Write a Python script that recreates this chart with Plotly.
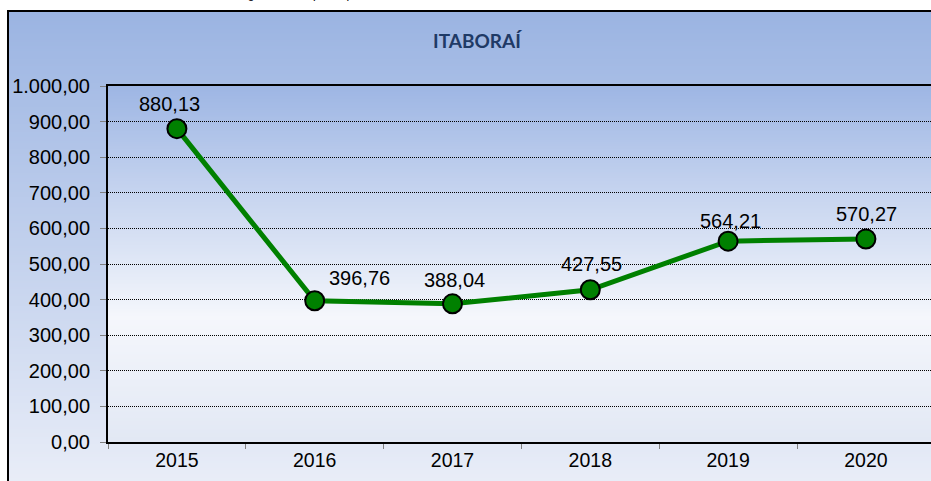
import base64
import struct
import zlib

import plotly.graph_objects as go

# ---- data -------------------------------------------------------------
years = ["2015", "2016", "2017", "2018", "2019", "2020"]
values = [880.13, 396.76, 388.04, 427.55, 564.21, 570.27]
y_ticks = [0, 100, 200, 300, 400, 500, 600, 700, 800, 900, 1000]
chart_title = "ITABORAÍ"
page_caption = "Média do gasto anual per capita"

# ---- helpers ----------------------------------------------------------
W, H = 931, 481
L, R, T, B = 108, 0, 86, 39
PW, PH = W - L - R, H - T - B


def px_x(p):
    return (p - L) / PW


def px_y(p):
    return (H - B - p) / PH


def gradient_png(stops, height):
    """Build a 1-pixel wide vertical gradient PNG and return it as data URI."""
    raw = bytearray()
    for i in range(height):
        t = i / (height - 1)
        for (t0, c0), (t1, c1) in zip(stops[:-1], stops[1:]):
            if t0 <= t <= t1:
                f = (t - t0) / (t1 - t0) if t1 > t0 else 0
                rgb = [round(a + (b - a) * f) for a, b in zip(c0, c1)]
                break
        raw += b"\x00" + bytes(rgb)

    def chunk(tag, data):
        c = struct.pack(">I", len(data)) + tag + data
        return c + struct.pack(">I", zlib.crc32(tag + data) & 0xFFFFFFFF)

    png = b"\x89PNG\r\n\x1a\n"
    png += chunk(b"IHDR", struct.pack(">IIBBBBB", 1, height, 8, 2, 0, 0, 0))
    png += chunk(b"IDAT", zlib.compress(bytes(raw)))
    png += chunk(b"IEND", b"")
    return "data:image/png;base64," + base64.b64encode(png).decode()


def fmt(v):
    return f"{v:,.2f}".replace(",", "X").replace(".", ",").replace("X", ".")


outer_grad = gradient_png([(0, (155, 180, 226)), (1, (234, 238, 248))], 256)
inner_grad = gradient_png(
    [(0, (158, 182, 228)), (0.65, (245, 247, 252)), (1, (226, 232, 244))], 256
)

FONT = "Liberation Sans"

fig = go.Figure()
fig.add_trace(
    go.Scatter(
        x=years,
        y=values,
        mode="lines+markers",
        line=dict(color="#008000", width=5),
        marker=dict(size=19, color="#008000", line=dict(color="black", width=2)),
        hoverinfo="skip",
    )
)

# value labels above each point (pixel nudges)
label_dx = [-7, 45, 2, 1, 2, 1]
label_dy = [25, 23, 24, 26, 20, 25]
for i, (v, dx, dy) in enumerate(zip(values, label_dx, label_dy)):
    fig.add_annotation(
        x=i, y=v, text=fmt(v), showarrow=False, yshift=dy, xshift=dx,
        font=dict(family=FONT, size=20, color="black"),
    )

# chart title inside the frame
fig.add_annotation(
    xref="paper", yref="paper", x=px_x(477), y=px_y(40),
    text=f"<b>{chart_title}</b>", showarrow=False,
    xanchor="center", yanchor="middle",
    font=dict(family="Lato", size=19, color="#1F3A66"),
)

# caption line sitting above the page edge
fig.add_annotation(
    xref="paper", yref="paper", x=px_x(193), y=px_y(-6),
    text=page_caption, showarrow=False,
    xanchor="left", yanchor="middle",
    font=dict(family=FONT, size=12, color="black"),
)

fig.update_layout(
    width=W,
    height=H,
    margin=dict(l=L, r=R, t=T, b=B),
    paper_bgcolor="white",
    plot_bgcolor="rgba(0,0,0,0)",
    showlegend=False,
    separators=",.",
    images=[
        dict(
            source=outer_grad, xref="paper", yref="paper",
            x=px_x(8), y=px_y(11), sizex=px_x(945) - px_x(8),
            sizey=px_y(11) - px_y(490), xanchor="left", yanchor="top",
            sizing="stretch", layer="below",
        ),
        dict(
            source=inner_grad, xref="paper", yref="paper",
            x=0, y=1, sizex=1, sizey=1, xanchor="left", yanchor="top",
            sizing="stretch", layer="below",
        ),
    ],
    shapes=[
        dict(
            type="rect", xref="paper", yref="paper",
            x0=px_x(8), y0=px_y(495), x1=px_x(950), y1=px_y(11),
            line=dict(color="black", width=2), fillcolor="rgba(0,0,0,0)",
            layer="above",
        )
    ],
)

fig.update_xaxes(
    type="category",
    range=[-0.5, -0.5 + PW / 137.8],
    showline=True, linecolor="black", linewidth=2, mirror=True,
    ticks="outside", tickson="boundaries", ticklen=5, tickcolor="#808080",
    showgrid=False,
    tickfont=dict(family=FONT, size=19.5, color="black"),
)
fig.update_yaxes(
    range=[0, 1000],
    tickvals=y_ticks,
    tickformat=",.2f",
    showline=True, linecolor="black", linewidth=2,
    ticks="outside", ticklen=6, tickcolor="#808080",
    ticklabelstandoff=6,
    showgrid=True, gridcolor="black", gridwidth=1, griddash="1px,1px",
    zeroline=False,
    tickfont=dict(family=FONT, size=20, color="black"),
)

fig.write_html("out.html")
